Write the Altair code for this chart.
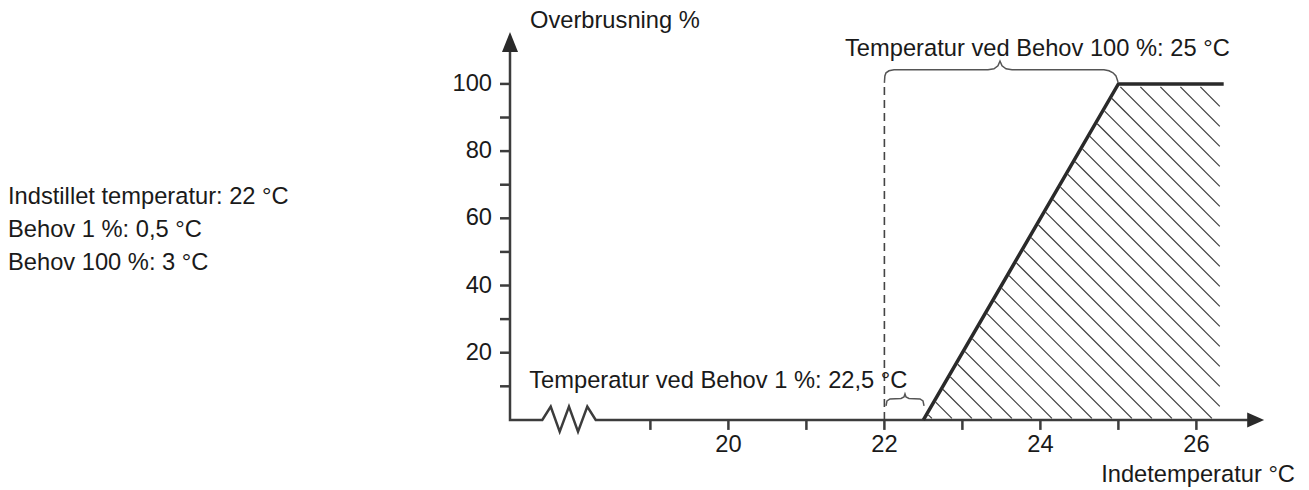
import altair as alt
import pandas as pd
import numpy as np

FONT = "Liberation Sans"
FS = 23.7
INK = "#1a1a1a"

# ---------------- data ----------------
curve_x = [22.5, 25.0, 26.35]
curve_y = [0, 100, 100]

x_tick_values = [19, 20, 21, 22, 23, 24, 25, 26]
x_label_values = [20, 22, 24, 26]
x_label_texts = ["20", "22", "24", "26"]

y_tick_values = [10, 20, 30, 40, 50, 60, 70, 80, 90, 100]
y_label_values = [20, 40, 60, 80, 100]
y_label_texts = ["20", "40", "60", "80", "100"]

setpoint_x = 22.0
setpoint_top = 100.4

# axis line with break symbol (x, y)
axis_path_x = [17.2, 17.2, 17.614, 17.722, 17.837, 17.956, 18.072, 18.191, 18.299, 26.66]
axis_path_y = [109.5, 0, 0, 3.96, -3.48, 3.96, -3.48, 3.96, 0, 0]

# braces
brace_top_x = [22.0, 22.006, 22.021, 22.059, 22.123, 23.328, 23.405, 23.456, 23.482,
               23.508, 23.559, 23.636, 24.815, 24.879, 24.931, 24.969, 24.995]
brace_top_y = [100.3, 102.4, 103.3, 103.9, 104.2, 104.2, 104.5, 105.4, 106.8,
               105.4, 104.5, 104.2, 104.2, 103.9, 103.3, 102.4, 100.6]
brace_low_x = [22.021, 22.033, 22.072, 22.213, 22.251, 22.264, 22.277, 22.315, 22.456, 22.495, 22.508]
brace_low_y = [4.17, 5.65, 6.25, 6.4, 6.85, 7.74, 6.85, 6.4, 6.25, 5.65, 4.17]

# texts
ann_texts = ["Overbrusning %", "Temperatur ved Behov 100 %: 25 °C",
             "Temperatur ved Behov 1 %: 22,5 °C"]
ann_x = [17.456, 21.495, 17.447]
ann_y = [116.7, 108.3, 9.6]

xtitle_text = ["Indetemperatur °C"]
xtitle_x = [27.264]
xtitle_y = [-18.6]

left_texts = ["Indstillet temperatur: 22 °C", "Behov 1 %: 0,5 °C", "Behov 100 %: 3 °C"]
left_x = [10.764, 10.764, 10.764]
left_y = [64.4, 54.3, 44.5]

# hatch region right edge
hatch_right = 26.3

# ---------------- scales ----------------
XMIN, XMAX = 17.2, 27.2
YMIN, YMAX = -16.0, 122.0
W = 780
H = (YMAX - YMIN) * 3.36
PX_X = W / (XMAX - XMIN)
PX_Y = H / (YMAX - YMIN)

xs = alt.Scale(domain=[XMIN, XMAX], nice=False, zero=False)
ys = alt.Scale(domain=[YMIN, YMAX], nice=False, zero=False)


def X(f="x"):
    return alt.X(f"{f}:Q", scale=xs, axis=None)


def Y(f="y"):
    return alt.Y(f"{f}:Q", scale=ys, axis=None)


# ---------------- hatch segments (geometry of the shaded region) ----------------
ua = (curve_x[0] - XMIN) * PX_X
u_corner = (curve_x[1] - XMIN) * PX_X
vtop = curve_y[1] * PX_Y - 3.0
k = (curve_y[1] * PX_Y) / (u_corner - ua)
ub = (hatch_right - XMIN) * PX_X
s = 1.0
spacing = 20.0
segs = []
c = ua + spacing * 0.5
while c < ub + vtop / s:
    lo = max(c - vtop / s, (s * c + k * (ua + 2.0)) / (s + k))
    hi = min(c - 1.5, ub)
    if hi - lo > 1.0:
        segs.append({"x": XMIN + lo / PX_X, "y": s * (c - lo) / PX_Y,
                     "x2": XMIN + hi / PX_X, "y2": s * (c - hi) / PX_Y})
    c += spacing
hatch_df = pd.DataFrame(segs)

# ---------------- layers ----------------
hatch = alt.Chart(hatch_df).mark_rule(color="#3a3a3a", strokeWidth=1.2).encode(
    x=X(), y=Y(), x2="x2:Q", y2="y2:Q")

axis_df = pd.DataFrame({"x": axis_path_x, "y": axis_path_y, "o": range(len(axis_path_x))})
axis_line = alt.Chart(axis_df).mark_line(color="#3c3c3c", strokeWidth=2.5, strokeJoin="miter").encode(
    x=X(), y=Y(), order="o:Q")

yarrow = alt.Chart(pd.DataFrame({"x": [XMIN], "y": [112.5]})).mark_point(
    shape="M0,-1L0.8,1L-0.8,1Z", size=400, filled=True, opacity=1, color="#2a2a2a", strokeWidth=0
).encode(x=X(), y=Y())
xarrow = alt.Chart(pd.DataFrame({"x": [26.76], "y": [0]})).mark_point(
    shape="M1,0L-1,0.88L-1,-0.88Z", size=289, filled=True, opacity=1, color="#2a2a2a", strokeWidth=0
).encode(x=X(), y=Y())

xt_df = pd.DataFrame({"x": x_tick_values, "y": [0] * len(x_tick_values)})
xticks = alt.Chart(xt_df).mark_tick(orient="vertical", size=10, thickness=2.5, color="#3c3c3c",
                                     yOffset=5, opacity=1).encode(x=X(), y=Y())
yt_df = pd.DataFrame({"x": [XMIN] * len(y_tick_values), "y": y_tick_values})
yticks = alt.Chart(yt_df).mark_tick(orient="horizontal", size=10, thickness=2.5, color="#3c3c3c",
                                     xOffset=-5, opacity=1).encode(x=X(), y=Y())

xl_df = pd.DataFrame({"x": x_label_values, "y": [0] * 4, "t": x_label_texts})
xlabels = alt.Chart(xl_df).mark_text(font=FONT, fontSize=FS, color=INK, align="center",
                                      baseline="alphabetic", dy=32).encode(x=X(), y=Y(), text="t:N")
yl_df = pd.DataFrame({"x": [XMIN] * 5, "y": y_label_values, "t": y_label_texts})
ylabels = alt.Chart(yl_df).mark_text(font=FONT, fontSize=FS, color=INK, align="right",
                                      baseline="middle", dx=-18).encode(x=X(), y=Y(), text="t:N")

dash = alt.Chart(pd.DataFrame({"x": [setpoint_x], "y": [0], "y2": [setpoint_top]})).mark_rule(
    color="#444444", strokeWidth=1.6, strokeDash=[8, 5]).encode(x=X(), y=Y(), y2="y2:Q")

curve_df = pd.DataFrame({"x": curve_x, "y": curve_y, "o": [0, 1, 2]})
curve = alt.Chart(curve_df).mark_line(color="#2a2a2a", strokeWidth=3.5, strokeJoin="miter").encode(
    x=X(), y=Y(), order="o:Q")

bt_df = pd.DataFrame({"x": brace_top_x, "y": brace_top_y, "o": range(len(brace_top_x))})
brace_top = alt.Chart(bt_df).mark_line(color="#555555", strokeWidth=1.5).encode(
    x=X(), y=Y(), order="o:Q")
bl_df = pd.DataFrame({"x": brace_low_x, "y": brace_low_y, "o": range(len(brace_low_x))})
brace_low = alt.Chart(bl_df).mark_line(color="#555555", strokeWidth=1.5).encode(
    x=X(), y=Y(), order="o:Q")

ann_df = pd.DataFrame({"x": ann_x, "y": ann_y, "t": ann_texts})
ann = alt.Chart(ann_df).mark_text(font=FONT, fontSize=FS, color=INK, align="left",
                                  baseline="alphabetic").encode(x=X(), y=Y(), text="t:N")
xt_title = alt.Chart(pd.DataFrame({"x": xtitle_x, "y": xtitle_y, "t": xtitle_text})).mark_text(
    font=FONT, fontSize=FS, color=INK, align="right", baseline="alphabetic").encode(x=X(), y=Y(), text="t:N")
left = alt.Chart(pd.DataFrame({"x": left_x, "y": left_y, "t": left_texts})).mark_text(
    font=FONT, fontSize=FS, color=INK, align="left", baseline="alphabetic").encode(
    x=X(), y=Y(), text="t:N")

chart = alt.layer(
    hatch, dash, brace_top, brace_low, axis_line, xticks, yticks, yarrow, xarrow,
    curve, xlabels, ylabels, ann, xt_title, left
).properties(
    width=W, height=H,
    autosize=alt.AutoSizeParams(type="none"),
    padding={"left": 502, "top": 2, "right": 9, "bottom": 14},
    background="white",
).configure_view(stroke=None)

chart.save("out.html", embed_options={"renderer": "svg", "actions": False})
